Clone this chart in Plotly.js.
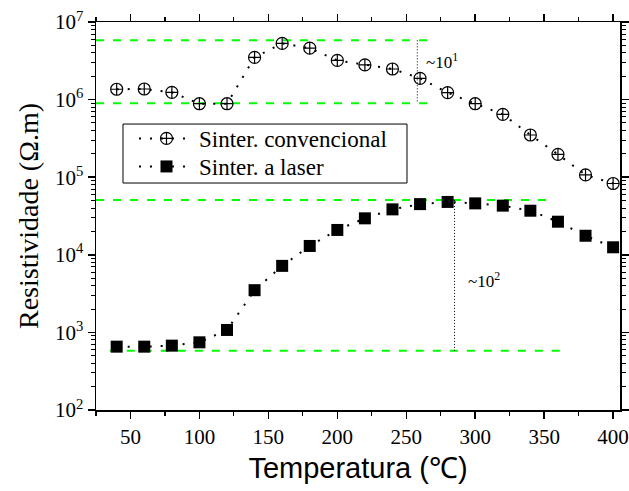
<!DOCTYPE html>
<html>
<head>
<meta charset="utf-8">
<script src="https://cdn.plot.ly/plotly-3.0.1.min.js"></script>
<style>html,body{margin:0;padding:0;background:#fff;}#chart{width:629px;height:491px;}</style>
</head>
<body>
<div id="chart"></div>
<script>
// Data
var temps = [40, 60, 80, 100, 120, 140, 160, 180, 200, 220, 240, 260, 280, 300, 320, 340, 360, 380, 400];
var convencional = [1.36e6, 1.37e6, 1.24e6, 8.85e5, 8.85e5, 3.5e6, 5.3e6, 4.6e6, 3.2e6, 2.8e6, 2.48e6, 1.88e6, 1.23e6, 8.85e5, 6.46e5, 3.5e5, 1.97e5, 1.07e5, 8.3e4];
var laser = [655, 655, 675, 745, 1075, 3500, 7200, 13000, 20900, 29500, 38500, 45000, 48000, 46000, 43000, 37000, 26700, 17600, 12500];
var seriesNames = ["Sinter. convencional", "Sinter. a laser"];

// Green dashed guide levels
var guideY = [5.8e6, 9.0e5, 5.1e4, 5.8e2];
var guideX0 = [25, 25, 25, 35];
var guideX1 = [271, 271, 356, 366];

// Vertical dotted spans
var spanX = [258, 285];
var spanYTop = [5.8e6, 5.1e4];
var spanYBot = [9.0e5, 5.8e2];

// Span labels
var spanLabels = ["~10<sup>1</sup>", "~10<sup>2</sup>"];
var spanLabelX = [263, 293];
var spanLabelY = [3.1e6, 4.7e3];

// Axis ticks
var yTickVals = [1e2, 1e3, 1e4, 1e5, 1e6, 1e7];
var yTickText = ["10<sup>2</sup>", "10<sup>3</sup>", "10<sup>4</sup>", "10<sup>5</sup>", "10<sup>6</sup>", "10<sup>7</sup>"];
var xTickVals = [50, 100, 150, 200, 250, 300, 350, 400];

var yMinor = [];
for (var d = 2; d < 7; d++) { for (var m = 2; m <= 9; m++) { yMinor.push(m * Math.pow(10, d)); } }

var SERIF = 'Liberation Serif';

var traces = [];
for (var i = 0; i < guideY.length; i++) {
  traces.push({x: [guideX0[i], guideX1[i]], y: [guideY[i], guideY[i]], mode: 'lines', showlegend: false, hoverinfo: 'skip',
    line: {color: '#00ff00', width: 2, dash: '8px,9px'}});
}
for (var j = 0; j < spanX.length; j++) {
  traces.push({x: [spanX[j], spanX[j]], y: [spanYTop[j], spanYBot[j]], mode: 'lines', showlegend: false, hoverinfo: 'skip',
    line: {color: '#000', width: 1, dash: '1px,2px'}});
}
traces.push({x: temps, y: convencional, name: seriesNames[0], mode: 'lines+markers', legend: 'legend',
  line: {color: '#000', width: 2, dash: '2px,9px'},
  marker: {symbol: 'circle-cross-open', size: 12, color: '#000', line: {width: 1.2, color: '#000'}}});
traces.push({x: temps, y: laser, name: seriesNames[1], mode: 'lines+markers', legend: 'legend2',
  line: {color: '#000', width: 2, dash: '2px,9px'},
  marker: {symbol: 'square', size: 12, color: '#000', line: {width: 0}}});

var annotations = [];
for (var k = 0; k < spanLabels.length; k++) {
  annotations.push({x: spanLabelX[k], y: Math.log10(spanLabelY[k]), xref: 'x', yref: 'y', text: spanLabels[k],
    showarrow: false, xanchor: 'left', yanchor: 'middle', font: {family: SERIF, size: 17, color: '#000'}});
}

var legendFont = {family: SERIF, size: 23, color: '#000'};
var layout = {
  width: 629, height: 491,
  margin: {l: 96, r: 9, t: 22, b: 81},
  paper_bgcolor: '#fff', plot_bgcolor: '#fff',
  showlegend: true,
  legend: {x: 0.0725, y: 0.7552, xanchor: 'left', yanchor: 'top', bgcolor: 'rgba(0,0,0,0)', borderwidth: 0,
    font: legendFont, itemwidth: 55},
  legend2: {x: 0.0725, y: 0.683, xanchor: 'left', yanchor: 'top', bgcolor: 'rgba(0,0,0,0)', borderwidth: 0,
    font: legendFont, itemwidth: 55},
  shapes: [{type: 'rect', xref: 'paper', yref: 'paper', x0: 0.0515, x1: 0.5935, y0: 0.585, y1: 0.737,
    line: {color: '#000', width: 1}, fillcolor: 'rgba(0,0,0,0)', layer: 'above'}],
  xaxis: {range: [25, 405], tickmode: 'array', tickvals: xTickVals, ticks: 'outside', ticklen: 7, tickwidth: 1.5, tickcolor: '#000',
    showline: true, linewidth: 1.5, linecolor: '#000', mirror: 'ticks', showgrid: false, zeroline: false,
    minor: {tickmode: 'linear', tick0: 0, dtick: 25, ticks: 'outside', ticklen: 4, tickwidth: 1.2, tickcolor: '#000', showgrid: false},
    tickfont: {family: SERIF, size: 21, color: '#000'},
    title: {text: 'Temperatura (℃)', font: {family: 'Liberation Sans', size: 29, color: '#000'}, standoff: 10}},
  yaxis: {type: 'log', range: [2, 7], tickmode: 'array', tickvals: yTickVals, ticktext: yTickText, ticks: 'outside', ticklen: 7, tickwidth: 1.5, tickcolor: '#000',
    showline: true, linewidth: 1.5, linecolor: '#000', mirror: 'ticks', showgrid: false, zeroline: false,
    minor: {tickmode: 'array', tickvals: yMinor, ticks: 'outside', ticklen: 4, tickwidth: 1, tickcolor: '#000', showgrid: false},
    tickfont: {family: SERIF, size: 21, color: '#000'},
    title: {text: 'Resistividade (Ω.m)', font: {family: SERIF, size: 28, color: '#000'}, standoff: 8}},
  annotations: annotations
};

Plotly.newPlot('chart', traces, layout, {displayModeBar: false, staticPlot: true});
</script>
</body>
</html>
